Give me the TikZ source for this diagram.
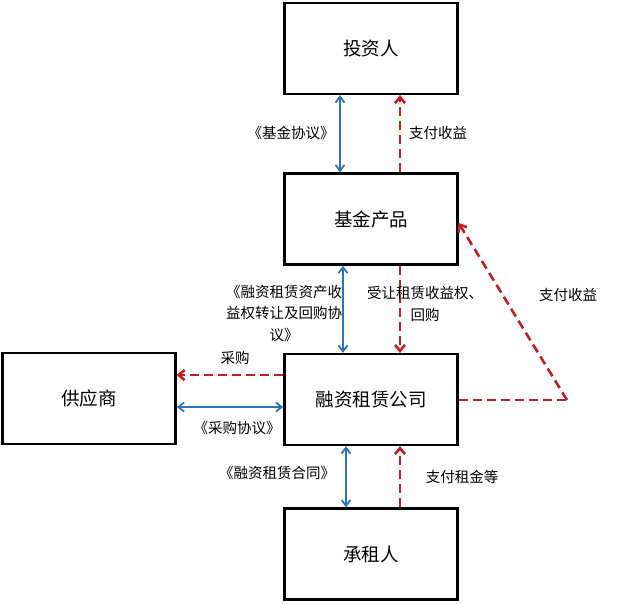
\documentclass[tikz,border=0pt]{standalone}
\usepackage{fontspec}
\setmainfont{Noto Sans CJK SC}
\usetikzlibrary{arrows.meta}
\definecolor{bl}{RGB}{46,117,182}
\definecolor{rd}{RGB}{190,30,40}
\tikzset{
  box/.style={draw, line width=2.2pt, minimum width=173pt, minimum height=91pt, inner sep=0pt, font=\fontsize{18.5}{20}\selectfont},
  lbl/.style={font=\fontsize{14.5}{21.5}\selectfont, inner sep=0pt, align=center},
  blu/.style={draw=bl, line width=1.8pt, {Straight Barb[length=6pt,width=9pt]}-{Straight Barb[length=6pt,width=9pt]}},
  red/.style={draw=rd, line width=2.6pt, dash pattern=on 9pt off 5pt, -{Straight Barb[length=6pt,width=10pt]}},
  redn/.style={draw=rd, line width=2.6pt, dash pattern=on 9pt off 5pt}
}
\begin{document}
\begin{tikzpicture}[x=1pt,y=-1pt]
\useasboundingbox (0,0) rectangle (640,603);
\node[box] (inv) at (371,48.5) {投资人};
\node[box] (fund) at (371,219) {基金产品};
\node[box] (lease) at (371,399.5) {融资租赁公司};
\node[box] (sup) at (89,398.5) {供应商};
\node[box] (ten) at (371,554) {承租人};
% vertical blue
\draw[blu] (inv.south -| 340,0) -- (fund.north -| 340,0);
\draw[blu] (fund.south -| 343,0) -- (lease.north -| 343,0);
\draw[blu] (lease.south -| 346,0) -- (ten.north -| 346,0);
% vertical red
\draw[red] (fund.north -| 400,0) -- (inv.south -| 400,0);
\draw[red] (fund.south -| 400,0) -- (lease.north -| 400,0);
\draw[red] (ten.north -| 400,0) -- (lease.south -| 400,0);
% supplier
\draw[red] (lease.west |- 0,375) -- (sup.east |- 0,375);
\draw[blu] (sup.east |- 0,407) -- (lease.west |- 0,407);
% right loop
\coordinate (corner) at (567,400);
\draw[redn] (lease.east |- corner) -- (corner);
\draw[red] (corner) -- (fund.east |- 0,223);
% labels
\node[lbl] (l1) at (291,133) {《基金协议》};
\node[lbl] (l2) at (438,133) {支付收益};
\node[lbl] (l3) at (284,313) {《融资租赁资产收\\益权转让及回购协\\议》};
\node[lbl] (l4) at (425,304) {受让租赁收益权、\\回购};
\node[lbl] (l5) at (568,295) {支付收益};
\node[lbl] (l6) at (235,358) {采购};
\node[lbl] (l7) at (237,428) {《采购协议》};
\node[lbl] (l8) at (277,473) {《融资租赁合同》};
\node[lbl] (l9) at (462,477) {支付租金等};
\end{tikzpicture}
\end{document}
